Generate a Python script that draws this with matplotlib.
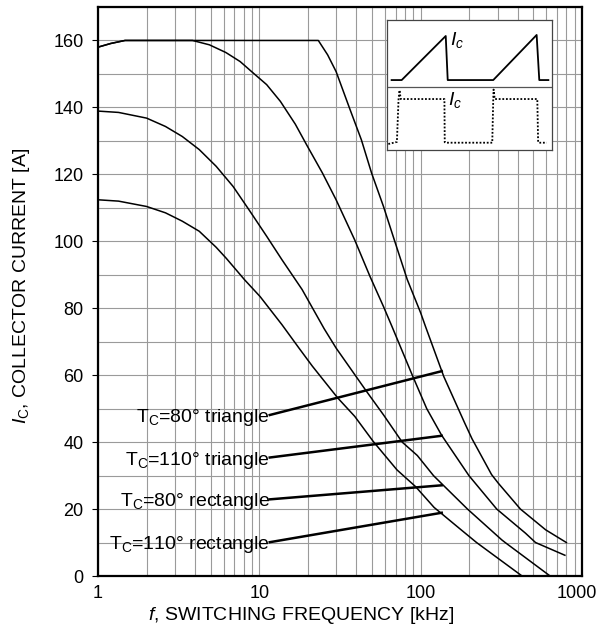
import matplotlib
matplotlib.use("Agg")
import matplotlib.pyplot as plt
from matplotlib.ticker import MultipleLocator, FixedLocator, NullFormatter
from matplotlib.transforms import ScaledTranslation

plt.rcParams["font.family"] = ["Liberation Sans", "DejaVu Sans"]
plt.rcParams["mathtext.fontset"] = "custom"
plt.rcParams["mathtext.rm"] = "Liberation Sans"
plt.rcParams["mathtext.it"] = "Liberation Sans:italic"

# allowable collector current vs switching frequency
f_80_tri = [1, 1.2, 1.47, 23.2, 26.5, 29.9, 36.2, 42.9, 49.6, 58.8, 69.6, 82.5, 100, 107,
            139, 187, 208, 275, 303, 415, 595, 800]
i_80_tri = [158, 159.1, 160, 160, 155.7, 150.7, 139.8, 130.3, 120.4, 110.4, 99.5, 88.6, 78.6, 74.6,
            59.6, 45.8, 41.0, 30.3, 27.7, 20, 13.8, 10]

f_110_tri = [1, 1.2, 1.47, 3.85, 4.9, 6.2, 7.6, 8.95, 11.1, 13.5, 16.7, 19.8, 24.6, 29.9, 39.0,
             48.5, 58.8, 66.3, 88.7, 109, 135, 199, 296, 446, 515, 783]
i_110_tri = [158, 159.1, 160, 160, 158.7, 156.4, 153.7, 150.7, 146.8, 141.8, 135.0, 128.5, 120.4, 112.4, 100.4,
             89.5, 80.5, 74.6, 60, 50, 42, 30, 20, 12.8, 10, 6.2]

f_80_rect = [1, 1.34, 2, 2.62, 3.33, 4.24, 5.4, 6.87, 8.74, 11.1, 13.8, 18.4, 25.2, 29.9, 46.1,
             58.9, 76.8, 95.3, 120, 195, 318, 334, 634]
i_80_rect = [138.9, 138.5, 136.8, 134.3, 131.3, 127.4, 122.4, 116.4, 109.0, 101.5, 94.5, 85.6, 73.9, 68.1, 55.2,
             48.1, 40, 36.0, 30, 20, 10.8, 10, 0]

f_110_rect = [1, 1.34, 2, 2.62, 3.33, 4.24, 5.4, 6.24, 8.1, 10.1, 13.8, 17.6, 21.3, 30.6, 39,
              50.8, 71.3, 93, 121, 174, 222, 425]
i_110_rect = [112.4, 112.0, 110.4, 108.5, 106.0, 103.0, 98.2, 94.9, 88.5, 83.5, 75.1, 68.1, 62.7, 53.2, 47.7,
              40.2, 31.7, 26.7, 20.5, 14.2, 10, 0]

# curve labels and their leader lines
label_texts = ["T$_\\mathrm{C}$=80° triangle", "T$_\\mathrm{C}$=110° triangle",
               "T$_\\mathrm{C}$=80° rectangle", "T$_\\mathrm{C}$=110° rectangle"]
label_f = 11.6
label_i = [48.1, 35.4, 22.9, 10.1]
leader_f = 135
leader_i = [61.2, 41.9, 27.1, 18.9]

# inset waveforms (axes fraction)
tri_u = [0.03, 0.091, 0.358, 0.37, 0.646, 0.909, 0.925, 0.98]
tri_v = [0.538, 0.538, 0.877, 0.538, 0.538, 0.885, 0.538, 0.538]
rect_u = [0.01, 0.062, 0.072, 0.078, 0.085, 0.35, 0.352, 0.358, 0.64, 0.646, 0.648, 0.655, 0.913, 0.918, 0.925, 0.97]
rect_v = [0.046, 0.062, 0.39, 0.46, 0.392, 0.392, 0.06, 0.056, 0.056, 0.39, 0.465, 0.392, 0.392, 0.06, 0.056, 0.056]

fig = plt.figure(figsize=(5.98, 6.35), dpi=100)
ax = fig.add_axes([0.1639, 0.0929, 0.8094, 0.8961])

ax.set_xscale("log")
ax.set_xlim(1, 1000)
ax.set_ylim(0, 170)

for f, i in [(f_80_tri, i_80_tri), (f_110_tri, i_110_tri),
             (f_80_rect, i_80_rect), (f_110_rect, i_110_rect)]:
    ax.plot(f, i, color="black", lw=1.1, zorder=3)

for txt, yi, ye in zip(label_texts, label_i, leader_i):
    ax.plot([label_f, leader_f], [yi, ye], color="black", lw=1.8, zorder=4)
    ax.text(label_f, yi - 2.1, txt, ha="right", va="baseline", fontsize=14, zorder=5)

ax.set_xticks([1, 10, 100, 1000])
ax.set_xticklabels(["1", "10", "100", "1000"])
ax.xaxis.set_minor_locator(FixedLocator([m * 10 ** d for d in range(3) for m in range(2, 10)]))
ax.xaxis.set_minor_formatter(NullFormatter())
ax.yaxis.set_major_locator(MultipleLocator(20))
ax.yaxis.set_minor_locator(MultipleLocator(10))

ax.grid(True, which="both", color="#9a9a9a", lw=0.8, zorder=0)
ax.set_axisbelow(True)
ax.tick_params(axis="x", which="both", length=0, pad=6.5, labelsize=13)
ax.tick_params(axis="y", which="major", length=4.5, width=0.8, pad=6, labelsize=13)
ax.tick_params(axis="y", which="minor", length=0)
for s in ax.spines.values():
    s.set_linewidth(1.6)

# keep the last tick label inside the figure edge
last = ax.get_xticklabels()[-1]
last.set_transform(last.get_transform() + ScaledTranslation(-5 / 100, 0, fig.dpi_scale_trans))

ax.set_xlabel("$\\mathit{f}$, SWITCHING FREQUENCY [kHz]", fontsize=14, labelpad=2, x=0.42)
ax.set_ylabel("$\\mathit{I}_\\mathrm{C}$, COLLECTOR CURRENT [A]", fontsize=14, labelpad=15, y=0.51)

# waveform inset
ins = fig.add_axes([0.6466, 0.7638, 0.2759, 0.2047])
ins.set_xlim(0, 1)
ins.set_ylim(0, 1)
ins.set_xticks([])
ins.set_yticks([])
for s in ins.spines.values():
    s.set_color("#444444")
    s.set_linewidth(0.9)
ins.axhline(0.487, color="#555555", lw=0.9)
ins.plot(tri_u, tri_v, color="black", lw=1.3)
ins.plot(rect_u, rect_v, color="black", lw=1.3, ls=(0, (1, 1)))
ins.text(0.385, 0.85, "$\\mathit{I}_\\mathit{c}$", fontsize=14, va="center")
ins.text(0.37, 0.385, "$\\mathit{I}_\\mathit{c}$", fontsize=14, va="center")

fig.savefig("out.png", dpi=100)
